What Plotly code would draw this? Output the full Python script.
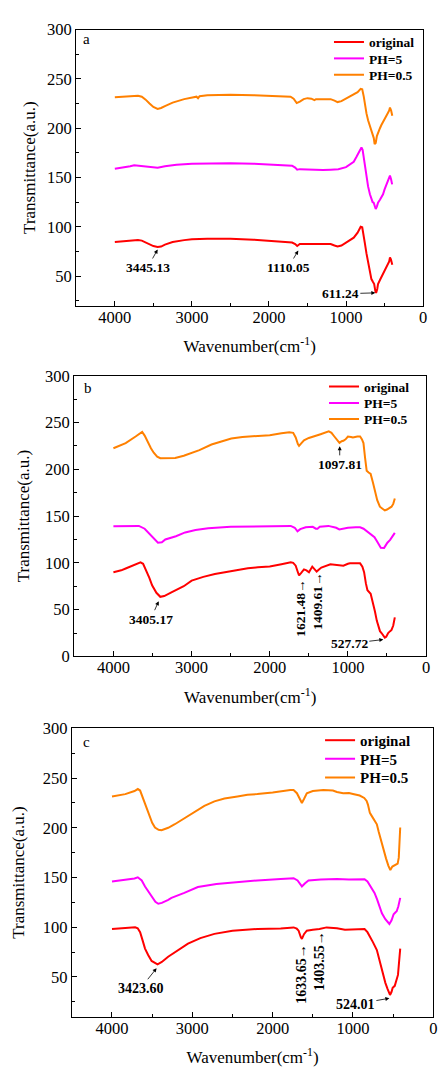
import plotly.graph_objects as go

FONT = "Liberation Serif"
series_names = ["original", "PH=5", "PH=0.5"]
colors = ["#FF0000", "#FF00FF", "#FF8000"]

# ---------------- panel a ----------------
a_orig_wn = [4000, 3850, 3700, 3650, 3600, 3550, 3500, 3445, 3400, 3350, 3250, 3100, 3000, 2800, 2500, 2200, 2000, 1800, 1700, 1660, 1634, 1600, 1500, 1400, 1300, 1200, 1150, 1110, 1060, 1000, 950, 900, 850, 810, 790, 770, 757, 735, 714, 690, 671, 650, 635, 620, 610, 595, 585, 560, 543, 520, 500, 480, 457, 440, 430, 418, 405, 400]
a_orig_t = [84.5, 85.5, 86.5, 86, 84, 82, 80.5, 79.5, 80, 82, 84.5, 86.5, 87.5, 88, 88, 87, 86, 85, 84, 82.5, 80.5, 82.5, 82.5, 82, 82.5, 82.5, 81, 80, 81, 84, 86, 89, 94, 100, 99.5, 92, 84, 73, 64, 54, 47, 44, 42, 35, 33, 37, 42, 46, 48.5, 52, 55, 58, 61.7, 65, 69, 67, 63, 61.5]
a_ph5_wn = [4000, 3900, 3800, 3750, 3700, 3650, 3550, 3445, 3350, 3200, 3000, 2800, 2500, 2200, 2000, 1800, 1700, 1660, 1634, 1600, 1500, 1400, 1300, 1200, 1100, 1000, 950, 900, 864, 830, 800, 785, 770, 757, 735, 714, 690, 671, 655, 641, 625, 615, 600, 585, 560, 543, 520, 500, 480, 457, 440, 430, 415, 402]
a_ph5_t = [159, 160, 161.5, 162.5, 162, 162, 161, 160, 161.5, 163, 164, 164.5, 164.5, 164, 163.5, 162.5, 162, 160, 158, 158.5, 158, 157.5, 157.5, 158, 158.5, 160.5, 163, 166, 171, 176, 180.5, 178, 170, 161, 151, 141, 133, 127.5, 125, 124.5, 121, 118, 120.5, 124.5, 127.5, 129.7, 133, 138, 142.5, 148, 151, 152, 148, 143]
a_ph05_wn = [4000, 3850, 3700, 3650, 3600, 3550, 3500, 3445, 3400, 3350, 3250, 3100, 3000, 2940, 2920, 2900, 2800, 2500, 2200, 2000, 1800, 1720, 1680, 1640, 1600, 1550, 1500, 1450, 1410, 1390, 1300, 1200, 1150, 1110, 1060, 1000, 950, 900, 850, 810, 790, 770, 757, 735, 714, 690, 671, 650, 640, 629, 615, 600, 585, 560, 543, 520, 500, 480, 457, 440, 430, 415, 405, 400]
a_ph05_t = [231.5, 232.5, 233, 232, 229, 225, 221.5, 219.5, 220.5, 222.5, 226, 229.5, 231.5, 232, 230.5, 232.5, 233.5, 234, 233.5, 233, 232.5, 232, 230, 225.5, 227, 229.5, 230.5, 230, 228.5, 229.5, 229.5, 229.5, 228, 226.5, 227.5, 230, 232, 234, 236.5, 240, 239.5, 232, 224, 215, 208, 202, 196, 192, 190, 184, 185, 192, 196, 200, 203, 206, 209.5, 212, 215.5, 218, 221, 218, 214, 212.7]

# ---------------- panel b ----------------
b_orig_wn = [4000, 3900, 3843, 3750, 3653, 3620, 3590, 3540, 3505, 3450, 3400, 3350, 3252, 3100, 2999, 2850, 2702, 2550, 2407, 2280, 2153, 2000, 1850, 1731, 1700, 1668, 1640, 1625, 1600, 1562, 1530, 1498, 1456, 1420, 1400, 1370, 1340, 1224, 1100, 1058, 1000, 973, 900, 844, 815, 793, 770, 750, 709, 680, 654, 630, 612, 590, 570, 550, 528, 510, 485, 460, 442, 420, 400]
b_orig_t = [90, 92, 94, 97, 100.5, 99, 94, 84, 76, 68, 63.7, 64.5, 68.7, 75, 81, 85, 88, 90.5, 92.5, 94.2, 95.2, 96, 98.5, 100.5, 100, 97, 90, 86.5, 89, 93, 92, 90, 96, 93, 90.7, 93, 95, 98.5, 97.5, 97, 99, 99.5, 99.5, 99.5, 96, 90, 78, 70.7, 67, 58, 48, 38, 32.2, 27, 25, 22, 20, 21, 25, 27, 28.3, 33, 41.7]
b_ph5_wn = [4000, 3800, 3674, 3600, 3548, 3480, 3430, 3380, 3336, 3200, 3082, 2950, 2787, 2500, 2153, 1900, 1731, 1680, 1645, 1610, 1540, 1450, 1410, 1389, 1360, 1250, 1150, 1110, 1050, 1000, 900, 844, 800, 760, 700, 660, 632, 600, 579, 537, 515, 495, 460, 442, 420, 400]
b_ph5_t = [139, 139, 139.5, 136.5, 132, 125, 121.5, 122, 125, 128.5, 132.5, 135, 137, 138.5, 139, 139.5, 139.5, 137.5, 133.7, 136, 138, 138.5, 136.5, 136.5, 138.5, 139.5, 137.5, 135.7, 136.5, 137.5, 138, 138, 136.5, 133.7, 130.2, 127.5, 123.5, 118, 116.2, 116, 119, 121.5, 124.5, 126.7, 129.5, 132]
b_ph05_wn = [4000, 3900, 3843, 3716, 3660, 3632, 3600, 3569, 3520, 3484, 3440, 3400, 3300, 3209, 3100, 2999, 2900, 2745, 2600, 2492, 2350, 2195, 2000, 1850, 1750, 1700, 1668, 1640, 1625, 1600, 1562, 1500, 1435, 1350, 1245, 1210, 1176, 1140, 1108, 1080, 1058, 1030, 1000, 960, 936, 880, 844, 820, 801, 780, 760, 735, 709, 680, 654, 625, 591, 560, 528, 500, 484, 460, 442, 420, 400]
b_ph05_t = [222.5, 225.5, 228, 235, 239, 240, 236, 230, 222.5, 217.7, 213.5, 211.8, 211.5, 212, 214.5, 217.7, 220.5, 226.5, 230.5, 232.8, 234.5, 235.5, 236.5, 238.5, 239.7, 239, 234, 227, 225, 227.5, 231, 233.5, 235.5, 237.5, 240.5, 239, 235.3, 231, 228.2, 230, 230.5, 232, 235, 234.5, 234, 235, 235, 232, 228, 212, 198.5, 196.5, 195, 186, 175.7, 167, 160, 157.5, 156, 157, 158, 159, 160, 163, 168.7]

# ---------------- panel c ----------------
c_orig_wn = [4000, 3850, 3712, 3680, 3650, 3620, 3589, 3550, 3507, 3433, 3380, 3301, 3200, 3054, 2900, 2725, 2500, 2191, 1900, 1739, 1700, 1677, 1650, 1636, 1610, 1575, 1500, 1418, 1328, 1200, 1100, 1000, 900, 856, 820, 794, 752, 703, 680, 650, 620, 597, 570, 539, 520, 506, 480, 465, 440, 412]
c_orig_t = [98.2, 98.8, 100, 99, 95, 87, 78.5, 72, 66, 62.7, 65, 70.3, 76, 83.4, 89, 93.3, 96.5, 98.2, 98.8, 99.8, 98.5, 96.5, 90, 88.3, 93, 96.5, 97.5, 98.2, 99.8, 99, 97.5, 98, 98, 98.2, 95, 91.7, 85, 77, 70, 58.7, 50, 44, 38, 31.8, 35, 39, 41, 45.6, 52, 78.5]
c_ph5_wn = [4000, 3835, 3720, 3679, 3630, 3589, 3550, 3507, 3460, 3424, 3380, 3300, 3260, 3100, 2931, 2700, 2520, 2191, 1900, 1739, 1690, 1636, 1600, 1554, 1400, 1287, 1200, 1050, 900, 856, 820, 785, 760, 732, 700, 671, 640, 597, 570, 547, 520, 494, 470, 456, 435, 412]
c_ph5_t = [146, 147.6, 149, 150.2, 147, 141, 136, 130.5, 125.5, 123.6, 124.5, 127.5, 129.5, 134.5, 140.4, 143.5, 145, 147, 148.5, 149.3, 147, 141, 144, 147, 148, 148.3, 148.5, 148, 148.5, 148.3, 146, 141, 137.5, 134.5, 128, 121.3, 114, 108, 105, 103.2, 107, 113, 115, 116, 121, 129.5]
c_ph05_wn = [4000, 3835, 3720, 3679, 3650, 3630, 3590, 3547, 3500, 3465, 3420, 3383, 3300, 3218, 3100, 2972, 2850, 2725, 2600, 2438, 2314, 2191, 2000, 1781, 1740, 1698, 1665, 1636, 1610, 1575, 1500, 1369, 1250, 1200, 1122, 1050, 1000, 917, 860, 830, 814, 790, 752, 730, 703, 680, 650, 620, 588, 560, 535, 510, 486, 460, 444, 430, 412]
c_ph05_t = [231.5, 233.9, 237, 239, 237.5, 233, 223, 213.4, 205, 200.3, 198, 197.6, 200, 203.6, 209.5, 216.7, 222, 226.6, 229.5, 231.5, 233.2, 233.9, 235.5, 238.1, 238, 234.8, 230, 225, 229, 234.8, 237, 238.1, 237.5, 236, 234.8, 235, 234, 232.5, 230, 227, 223.3, 215, 210, 207, 203.5, 196, 187, 177, 169, 162, 157.5, 161, 162.4, 163, 164, 170, 200.3]

panels = [
    {"letter": "a", "wn": [a_orig_wn, a_ph5_wn, a_ph05_wn], "t": [a_orig_t, a_ph5_t, a_ph05_t], "yrange": [20, 300]},
    {"letter": "b", "wn": [b_orig_wn, b_ph5_wn, b_ph05_wn], "t": [b_orig_t, b_ph5_t, b_ph05_t], "yrange": [0, 300]},
    {"letter": "c", "wn": [c_orig_wn, c_ph5_wn, c_ph05_wn], "t": [c_orig_t, c_ph5_t, c_ph05_t], "yrange": [10, 300]},
]

# peak labels: (text, x, y, ax, ay, angle) ; angle None -> arrow annotation
peak_labels = [
    [("3445.13", 3445, 77, -10, 18, None), ("1110.05", 1620, 76, -10, 17, None), ("611.24", 620, 33, -35, 1, None)],
    [("3405.17", 3421, 59, -8, 18, None), ("1097.81", 1105, 224.5, 0, 18, None),
     ("1621.48→", 1605, 51.5, 0, 0, -90), ("1409.61→", 1393, 58.5, 0, 0, -90), ("527.72", 547, 18, -34, 4, None)],
    [("3423.60", 3445, 58.7, -16, 20, None), ("1633.65→", 1636, 53, 0, 0, -90),
     ("1403.55→", 1411, 66.3, 0, 0, -90), ("524.01", 547, 28.5, -34, 6, None)],
]

W, H = 439, 1080
# plot-area boxes in pixels: left, right, top, bottom
boxes = [(77, 427, 21, 302), (75, 430, 373.3, 659), (72.5, 437.3, 732.3, 1025.7)]
# legend rows: left x of the legend, row centre y's, font size
legend_x = [332, 327, 323]
legend_rows = [[33.3, 50, 66.7], [384, 400.7, 417], [744, 763, 782]]
legend_fs = [13.5, 13.5, 15]
letter_pos = [(0.029, 0.965), (0.040, 0.957), (0.0405, 0.952)]
ytitle_standoff = [7, 11, 13]

fig = go.Figure()
layout = {}
annotations = []
for i, p in enumerate(panels):
    k = "" if i == 0 else str(i + 1)
    l, r, t, b = boxes[i]
    fs = legend_fs[i]
    item_h = max(fs * 1.3, 16) + 3
    for j in range(3):
        n = i * 3 + j + 1
        leg = "legend" if n == 1 else "legend" + str(n)
        fig.add_trace(go.Scatter(
            x=p["wn"][j], y=p["t"][j], mode="lines", name=series_names[j],
            line=dict(color=colors[j], width=2), xaxis="x" + k, yaxis="y" + k,
            legend=leg, showlegend=True))
        top = legend_rows[i][j] - item_h / 2 - 5
        layout[leg] = dict(x=legend_x[i] / W, y=1 - top / H, xanchor="left", yanchor="top",
                           bgcolor="rgba(0,0,0,0)", borderwidth=0, itemwidth=30,
                           font=dict(family=FONT, size=fs, color="black", weight="bold"))
    axcommon = dict(showline=True, linecolor="black", linewidth=1.3, mirror=True,
                    ticks="inside", ticklen=5, tickwidth=1.2, tickcolor="black",
                    showgrid=False, zeroline=False,
                    tickfont=dict(family=FONT, size=16.5, color="black"))
    layout["xaxis" + k] = dict(
        domain=[l / W, r / W], range=[4500, 0], dtick=1000, tick0=0,
        anchor="y" + k, ticklabelstandoff=-4,
        minor=dict(dtick=500, ticks="inside", ticklen=3, tickcolor="black", tickwidth=1.2, showgrid=False),
        title=dict(text="Wavenumber(cm<sup>-1</sup>)", font=dict(family=FONT, size=17, color="black"), standoff=14),
        **axcommon)
    layout["yaxis" + k] = dict(
        domain=[1 - b / H, 1 - t / H], range=p["yrange"], dtick=50, tick0=0,
        anchor="x" + k,
        minor=dict(dtick=25, ticks="inside", ticklen=3, tickcolor="black", tickwidth=1.2, showgrid=False),
        title=dict(text="Transmittance(a.u.)", font=dict(family=FONT, size=17, color="black"),
                   standoff=ytitle_standoff[i]),
        **axcommon)
    annotations.append(dict(text=p["letter"], xref="x" + k + " domain", yref="y" + k + " domain",
                            x=letter_pos[i][0], y=letter_pos[i][1], showarrow=False,
                            xanchor="center", yanchor="middle",
                            font=dict(family=FONT, size=15, color="black")))
    for (txt, x, y, ax, ay, ang) in peak_labels[i]:
        afs = 14 if i == 2 else 13.5
        if ang is None:
            annotations.append(dict(text=txt, x=x, y=y, xref="x" + k, yref="y" + k,
                                    showarrow=True, ax=ax, ay=ay, arrowhead=2, arrowsize=1,
                                    arrowwidth=0.8, arrowcolor="black", standoff=0,
                                    font=dict(family=FONT, size=afs, color="black", weight="bold")))
        else:
            annotations.append(dict(text=txt, x=x, y=y, xref="x" + k, yref="y" + k,
                                    showarrow=False, textangle=ang, xanchor="center", yanchor="middle",
                                    font=dict(family=FONT, size=afs, color="black", weight="bold")))

fig.update_layout(width=W, height=H, margin=dict(l=0, r=0, t=0, b=0),
                  paper_bgcolor="white", plot_bgcolor="white", showlegend=True,
                  annotations=annotations, **layout)
fig.write_html("out.html")
